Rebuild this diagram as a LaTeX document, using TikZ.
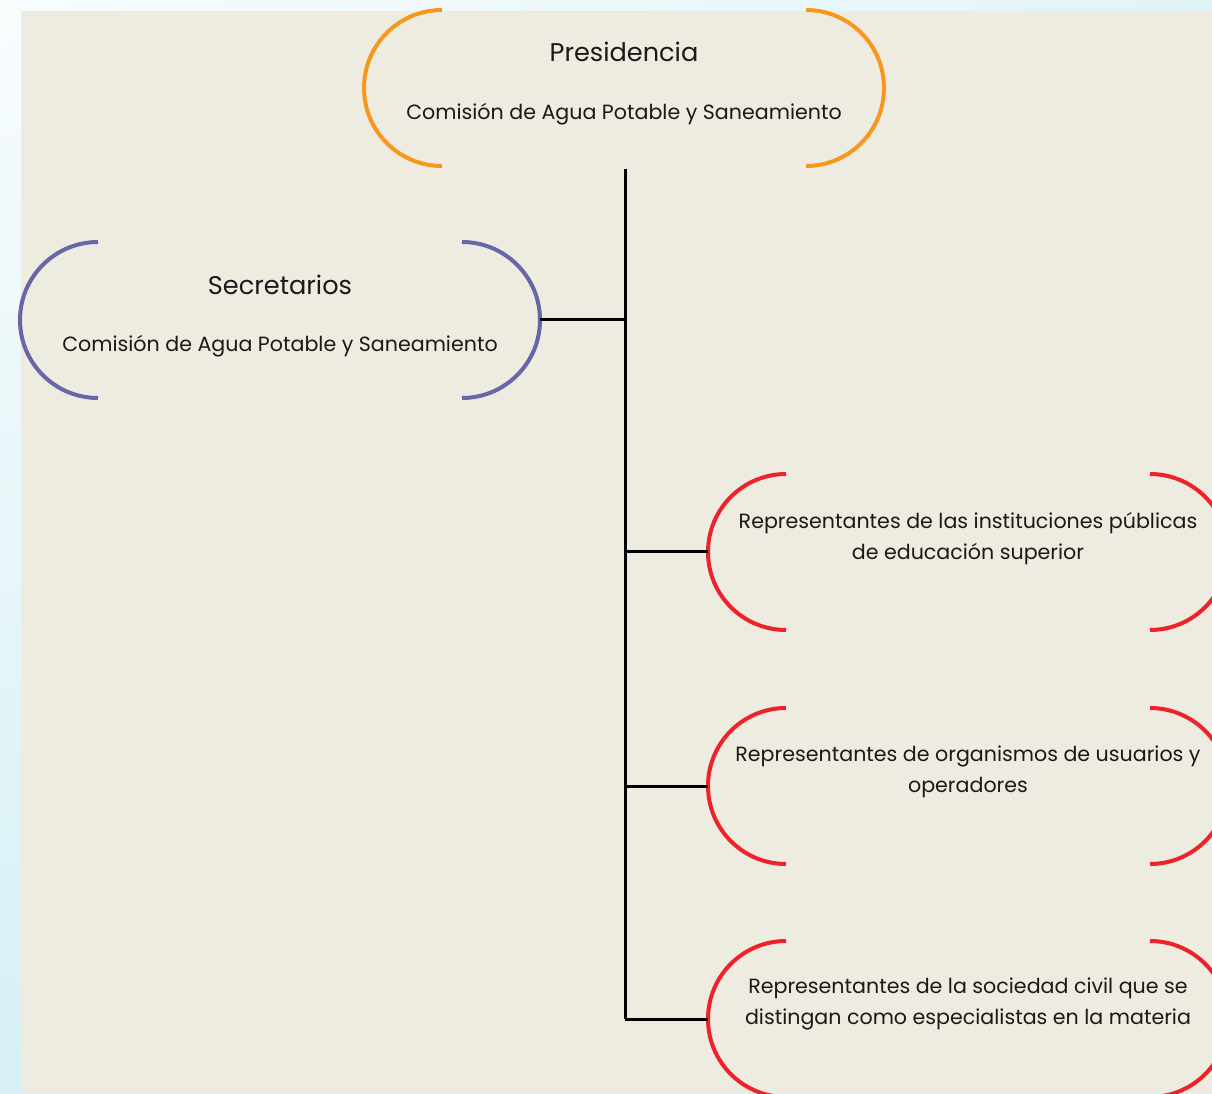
\documentclass[tikz,border=0pt]{standalone}
\usepackage{fontspec}
\setmainfont{Poppins}
\usetikzlibrary{shadings}
\definecolor{bgpanel}{HTML}{EEEBE1}
\definecolor{skyA}{HTML}{F8FCFD}
\definecolor{skyB}{HTML}{E1F4F8}
\definecolor{skyC}{HTML}{D6F0F5}
\definecolor{orgc}{HTML}{F7981D}
\definecolor{purc}{HTML}{6766A6}
\definecolor{redc}{HTML}{EE2229}
\definecolor{inkc}{HTML}{1A1A1A}
\begin{document}
\begin{tikzpicture}[x=1pt,y=1pt,
  box/.style={minimum width=520pt,minimum height=156pt,inner sep=0pt,outer sep=0pt},
  brk/.style={line width=4pt},
  conn/.style={line width=3pt,color=black},
  txt/.style={text=inkc,font=\fontsize{20.6}{31}\selectfont,align=center,inner sep=0pt},
  ttl/.style={text=inkc,font=\fontsize{25.6}{30}\selectfont,inner sep=0pt}]
\useasboundingbox (0,0) rectangle (1212,1093);
\shade[upper left=skyA,upper right=skyB,lower left=skyC,lower right=skyC] (0,0) rectangle (1212,1093);
\fill[bgpanel] (21,0) rectangle (1212,1082);
% nodes
\node[box] (pres) at (624,1005) {};
\node[box] (sec)  at (280,773) {};
\node[box] (r1)   at (968,541) {};
\node[box] (r2)   at (968,307) {};
\node[box] (r3)   at (968,74) {};
% brackets
\foreach \n/\c in {pres/orgc,sec/purc,r1/redc,r2/redc,r3/redc}{
  \draw[brk,color=\c] ([xshift=78pt]\n.north west) arc[start angle=90,end angle=270,radius=78pt];
  \draw[brk,color=\c] ([xshift=-78pt]\n.north east) arc[start angle=90,end angle=-90,radius=78pt];
}
% texts
\node[ttl] (presT) at ([yshift=36pt]pres.center) {Presidencia};
\node[txt] (presS) at ([yshift=-26pt]pres.center) {Comisión de Agua Potable y Saneamiento};
\node[ttl] (secT) at ([yshift=35pt]sec.center) {Secretarios};
\node[txt] (secS) at ([yshift=-26pt]sec.center) {Comisión de Agua Potable y Saneamiento};
\node[txt] (r1T) at ([yshift=13pt]r1.center) {Representantes de las instituciones públicas\\de educación superior};
\node[txt] (r2T) at ([yshift=14pt]r2.center) {Representantes de organismos de usuarios y\\operadores};
\node[txt] (r3T) at ([yshift=15pt]r3.center) {Representantes de la sociedad civil que se\\distingan como especialistas en la materia};
% connectors
\coordinate (trunkEnd) at ([xshift=1pt]pres.south |- r3.west);
\draw[conn] ([xshift=1pt,yshift=-3pt]pres.south) -- (trunkEnd);
\draw[conn] (sec.east) -- (sec.east -| trunkEnd);
\draw[conn] (r1.west) -- (r1.west -| trunkEnd);
\draw[conn] (r2.west) -- (r2.west -| trunkEnd);
\draw[conn] (r3.west) -- (trunkEnd);
\end{tikzpicture}
\end{document}
